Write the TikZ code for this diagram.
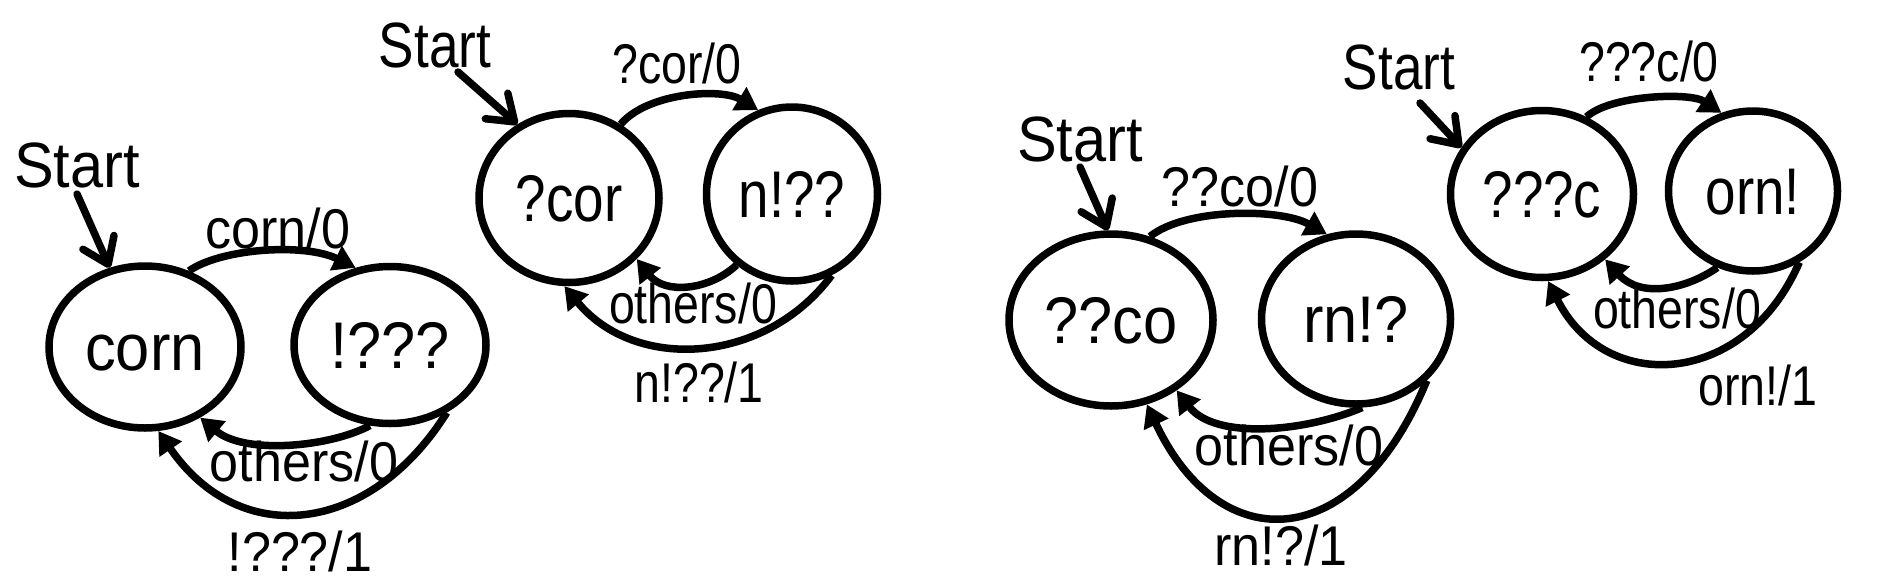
\documentclass[tikz,border=0pt]{standalone}
\usepackage{fontspec}
\setmainfont{Liberation Sans}
\newfontfamily\arialw[FakeStretch=0.93]{Liberation Sans}
\newfontfamily\arialn[FakeStretch=0.83]{Liberation Sans}
\usepackage{tikz}
\usetikzlibrary{shapes.geometric, arrows.meta}
\newcommand{\dfont}{\arialw}
\tikzset{
  state/.style={ellipse, draw, line width=7.5pt, inner sep=0pt, text height=47pt, text depth=0pt, font=\dfont\fontsize{66}{72}\selectfont},
  lbl/.style={inner sep=0pt, text height=40pt, text depth=0pt, font=\dfont\fontsize{56}{60}\selectfont},
  startlbl/.style={inner sep=0pt, text height=46pt, text depth=0pt, font=\dfont\fontsize{64}{68}\selectfont},
  trans/.style={line width=7.5pt, -{Triangle[length=22pt,width=26pt]}},
  startarr/.style={line width=7.5pt, line cap=round, -{Straight Barb[length=24pt,width=34pt,round]}}
}

\begin{document}
\begin{tikzpicture}[x=1pt, y=-1pt]
            \useasboundingbox (0,0) rectangle (1893,579);

            \begin{scope}
            \node[startlbl] (st1) at (77,164) {Start};
            \coordinate (t1) at (77,194);
            \node[state, minimum width=192pt, minimum height=162pt] (corn) at (145,347) {corn};
            \node[state, minimum width=192pt, minimum height=157pt] (q1) at (390,345) {!???};
            \node[lbl] (e1a) at (278,228) {corn/0};
            \node[lbl] (e1b) at (304,461) {others/0};
            \node[lbl] (e1c) at (300,551) {!???/1};
            \draw[startarr] (t1) -- (corn.114);
            \draw[trans] (corn.60) .. controls (222,248) and (305,243) .. (q1.114);
            \draw[trans] (q1.256) .. controls (330,447) and (245,455) .. (corn.308);
            \draw[trans] (q1.310) .. controls (370,535) and (240,550) .. (corn.279);
            \end{scope}

            \begin{scope}
            \def\dfont{\arialn}
            \node[startlbl] (st2) at (435,44) {Start};
            \coordinate (t2) at (458,72);
            \node[state, minimum width=180pt, minimum height=169pt] (cor) at (569,198) {?cor};
            \node[state, minimum width=171pt, minimum height=174pt] (q2) at (792,194) {n!??};
            \node[lbl] (e2a) at (677,63) {?cor/0};
            \node[lbl] (e2b) at (693,303) {others/0};
            \node[lbl] (e2c) at (699,382) {n!??/1};
            \draw[startarr] (t2) -- (cor.125);
            \draw[trans] (cor.55) .. controls (648,92) and (722,88) .. (q2.112);
            \draw[trans] (q2.232) .. controls (710,290) and (665,295) .. (cor.318);
            \draw[trans] (q2.296) .. controls (765,365) and (635,372) .. (cor.267);
            \end{scope}

            \begin{scope}
            \node[startlbl] (st3) at (1080,138) {Start};
            \coordinate (t3) at (1080,167);
            \node[state, minimum width=204pt, minimum height=172pt] (co) at (1111,320) {??co};
            \node[state, minimum width=189pt, minimum height=170pt] (q3) at (1356,319) {rn!?};
            \node[lbl] (e3a) at (1240,186) {??co/0};
            \node[lbl] (e3b) at (1289,445) {others/0};
            \node[lbl] (e3c) at (1281,545) {rn!?/1};
            \draw[startarr] (t3) -- (co.92);
            \draw[trans] (co.65) .. controls (1185,208) and (1280,208) .. (q3.109);
            \draw[trans] (q3.274) .. controls (1305,432) and (1215,440) .. (co.313);
            \draw[trans] (q3.319) .. controls (1355,555) and (1220,560) .. (co.293);
            \end{scope}

            \begin{scope}
            \def\dfont{\arialn}
            \node[startlbl] (st4) at (1399,66) {Start};
            \coordinate (t4) at (1420,103);
            \node[state, minimum width=183pt, minimum height=167pt] (cc) at (1542,194) {???c};
            \node[state, minimum width=169pt, minimum height=160pt] (q4) at (1753,191) {orn!};
            \node[lbl] (e4a) at (1649,61) {???c/0};
            \node[lbl] (e4b) at (1677,308) {others/0};
            \node[lbl] (e4c) at (1758,385) {orn!/1};
            \draw[startarr] (t4) -- (cc.150);
            \draw[trans] (cc.60) .. controls (1610,95) and (1690,92) .. (q4.112);
            \draw[trans] (q4.245) .. controls (1685,290) and (1640,298) .. (cc.314);
            \draw[trans] (q4.303) .. controls (1745,388) and (1605,395) .. (cc.274);
            \end{scope}
        \end{tikzpicture}
\end{document}
